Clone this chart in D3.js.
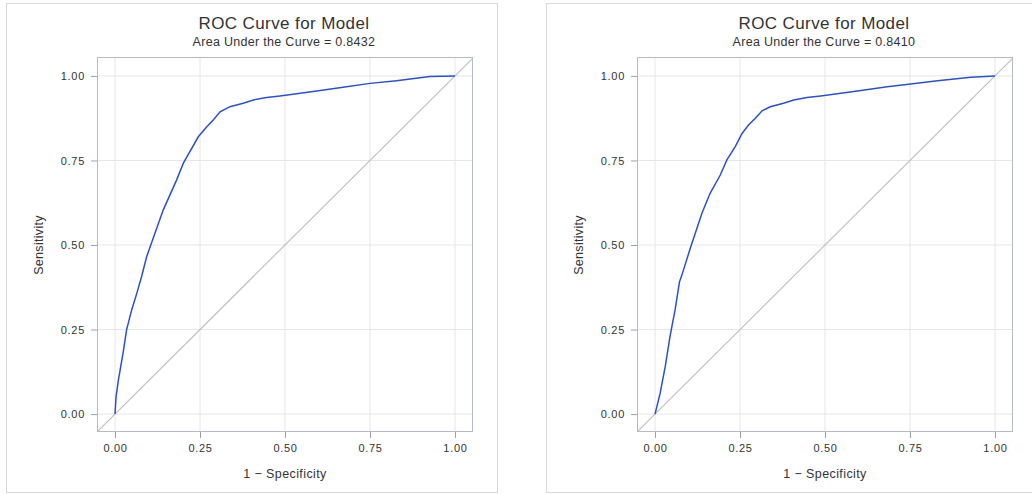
<!DOCTYPE html>
<meta charset="utf-8">

<head>
  <script src="https://d3js.org/d3.v7.min.js"></script>
  <style>
    body { margin: 0; background: #fff; }
    text { font-family: "Liberation Sans", Arial, sans-serif; fill: #333; }
  </style>
</head>

<body>
  <svg id="root"></svg>

  <script>
    // data
    const titles = ["ROC Curve for Model", "ROC Curve for Model"];
    const aucs = ["0.8432", "0.8410"];
    const ticks = [0, 0.25, 0.5, 0.75, 1];

    const fprA = [0, 0.003, 0.010, 0.015, 0.025, 0.034, 0.049, 0.064, 0.078, 0.093, 0.101, 0.142, 0.181, 0.201,
      0.245, 0.270, 0.289, 0.309, 0.338, 0.377, 0.407, 0.446, 0.485, 0.583, 0.681, 0.750, 0.828, 0.926, 1.0];
    const tprA = [0, 0.051, 0.101, 0.130, 0.189, 0.249, 0.308, 0.357, 0.406, 0.465, 0.488, 0.604, 0.692, 0.742,
      0.820, 0.850, 0.870, 0.894, 0.909, 0.919, 0.929, 0.936, 0.941, 0.954, 0.968, 0.978, 0.986, 0.998, 1.0];

    const fprB = [0, 0.015, 0.030, 0.044, 0.059, 0.072, 0.079, 0.093, 0.103, 0.138, 0.162, 0.192, 0.211, 0.236,
      0.256, 0.275, 0.295, 0.315, 0.339, 0.378, 0.408, 0.447, 0.487, 0.585, 0.683, 0.752, 0.831, 0.929, 1.0];
    const tprB = [0, 0.061, 0.140, 0.229, 0.308, 0.391, 0.411, 0.456, 0.488, 0.594, 0.653, 0.707, 0.751, 0.791,
      0.830, 0.855, 0.875, 0.897, 0.909, 0.919, 0.929, 0.936, 0.941, 0.954, 0.968, 0.976, 0.986, 0.996, 1.0];

    const diag = [-0.06, 1.06];

    const W = 1032, H = 494;
    const svg = d3.select("#root").attr("width", W).attr("height", H);

    const plot = { left: 97, top: 57, width: 376, height: 375 };

    function drawPanel(i, ox, fpr, tpr, boxW) {
      const g = svg.append("g").attr("transform", `translate(${ox},0)`);

      // outer frame of the panel
      g.append("rect")
        .attr("x", 6.5).attr("y", 3.5)
        .attr("width", boxW).attr("height", 489)
        .attr("fill", "none").attr("stroke", "#d9d9d9");

      const x = d3.scaleLinear([-0.053, 1.053], [plot.left, plot.left + plot.width]);
      const y = d3.scaleLinear([-0.053, 1.056], [plot.top + plot.height, plot.top]);

      g.append("clipPath").attr("id", "clip" + i)
        .append("rect")
        .attr("x", plot.left).attr("y", plot.top)
        .attr("width", plot.width).attr("height", plot.height);

      // grid
      g.append("g").selectAll("line.gx").data(ticks).join("line")
        .attr("x1", d => x(d)).attr("x2", d => x(d))
        .attr("y1", plot.top).attr("y2", plot.top + plot.height)
        .attr("stroke", "#e6e6e6");
      g.append("g").selectAll("line.gy").data(ticks).join("line")
        .attr("y1", d => y(d)).attr("y2", d => y(d))
        .attr("x1", plot.left).attr("x2", plot.left + plot.width)
        .attr("stroke", "#e6e6e6");

      // axes
      const xAxis = g.append("g")
        .attr("transform", `translate(0,${plot.top + plot.height})`)
        .call(d3.axisBottom(x).tickValues(ticks).tickFormat(d3.format(".2f")).tickSize(6).tickPadding(6));
      const yAxis = g.append("g")
        .attr("transform", `translate(${plot.left},0)`)
        .call(d3.axisLeft(y).tickValues(ticks).tickFormat(d3.format(".2f")).tickSize(6).tickPadding(6));
      [xAxis, yAxis].forEach(a => {
        a.select(".domain").remove();
        a.selectAll("line").attr("stroke", "#9aa0a8");
        a.selectAll("text")
          .style("font-family", '"Liberation Sans", Arial, sans-serif')
          .style("font-size", "11px").style("letter-spacing", "0.7px").attr("fill", "#333");
      });

      // diagonal reference
      g.append("path")
        .datum(diag.map(v => [v, v]))
        .attr("clip-path", `url(#clip${i})`)
        .attr("fill", "none").attr("stroke", "#bdbdbd").attr("stroke-width", 1.1)
        .attr("d", d3.line().x(d => x(d[0])).y(d => y(d[1])));

      // ROC curve
      const pts = fpr.map((f, k) => [f, tpr[k]]);
      g.append("path")
        .datum(pts)
        .attr("fill", "none").attr("stroke", "#2c52c2").attr("stroke-width", 1.5)
        .attr("d", d3.line().x(d => x(d[0])).y(d => y(d[1])));

      // plot frame
      g.append("rect")
        .attr("x", plot.left + 0.5).attr("y", plot.top + 0.5)
        .attr("width", plot.width - 1).attr("height", plot.height - 1)
        .attr("fill", "none").attr("stroke", "#b4bbc4");

      // titles
      const cx = plot.left + plot.width / 2 - 1;
      g.append("text").attr("x", cx).attr("y", 29)
        .attr("text-anchor", "middle").style("font-size", "17px").attr("fill", "#111")
        .style("letter-spacing", "0.4px")
        .text(titles[i]);
      g.append("text").attr("x", cx).attr("y", 46)
        .attr("text-anchor", "middle").style("font-size", "12.5px").attr("fill", "#222")
        .style("letter-spacing", "0.3px")
        .text("Area Under the Curve = " + aucs[i]);

      g.append("text").attr("x", x(0.5)).attr("y", 478)
        .attr("text-anchor", "middle").style("font-size", "12.5px")
        .style("letter-spacing", "0.4px")
        .text("1 \u2212 Specificity");
      g.append("text")
        .attr("transform", `translate(43,${y(0.5)}) rotate(-90)`)
        .attr("text-anchor", "middle").style("font-size", "12.5px")
        .style("letter-spacing", "0.3px")
        .text("Sensitivity");
    }

    drawPanel(0, 0, fprA, tprA, 491);
    drawPanel(1, 540, fprB, tprB, 500);
  </script>
</body>
